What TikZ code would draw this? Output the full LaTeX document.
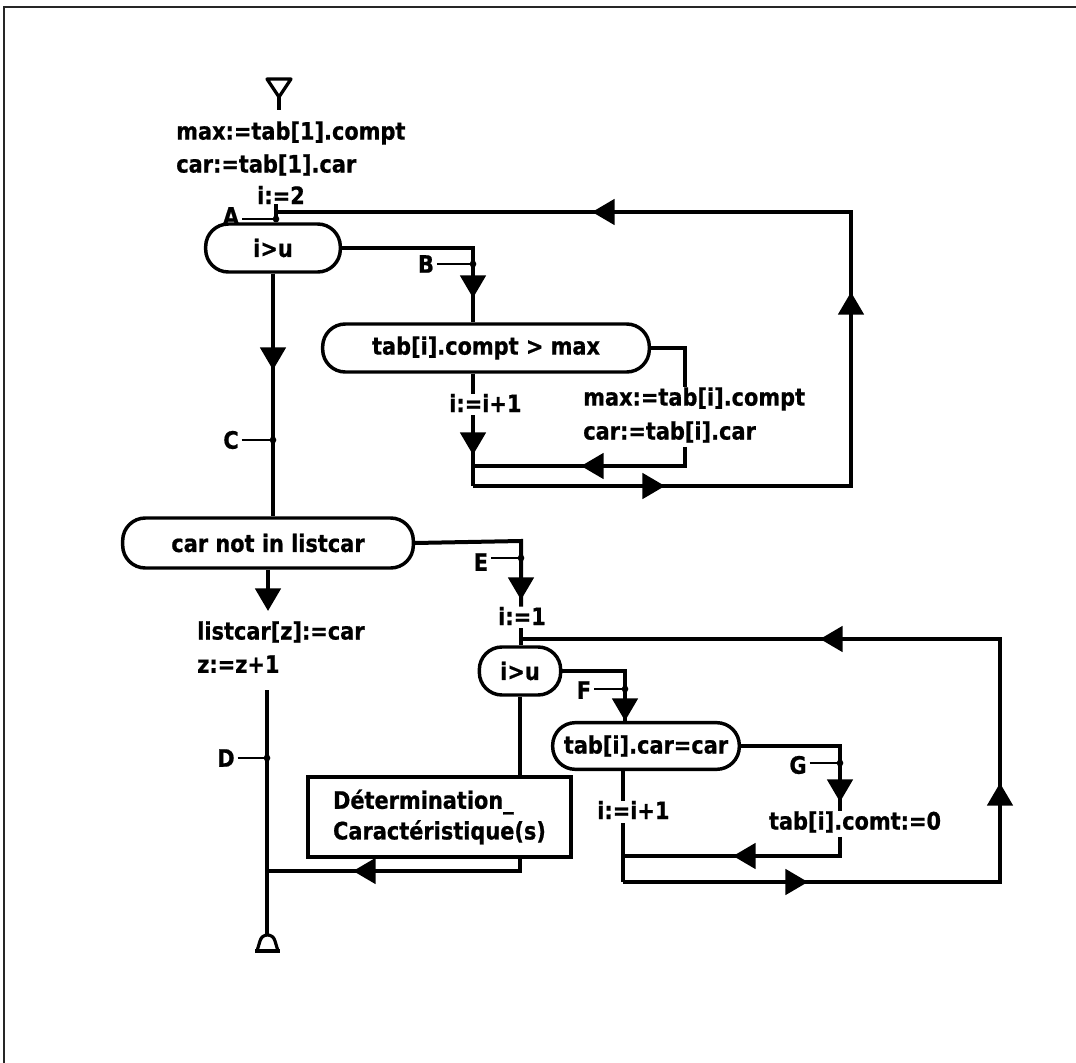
\documentclass[tikz,border=0pt]{standalone}
\usepackage{fontspec}
\setmainfont{DejaVu Sans}[FakeStretch=0.87,BoldFeatures={FakeBold=0.8}]
\usetikzlibrary{arrows.meta}
\begin{document}
\begin{tikzpicture}[x=0.75pt,y=-0.75pt,
  every node/.style={font=\fontsize{18}{23}\selectfont\bfseries,inner sep=0pt},
  ln/.style={line width=3pt},
  ah/.style={line width=3pt,-{Triangle[width=19pt,length=17pt]}},
  oval/.style={draw,line width=2.6pt,rounded corners=17pt,minimum height=36pt},
  boxed/.style={draw,line width=2.6pt,align=left},
  tick/.style={line width=1.5pt},
  jd/.style={circle,fill,inner sep=0pt,minimum size=5pt},
  frame/.style={line width=2.2pt,draw=black!85},
  term/.style={line width=2.4pt,line join=round}]
\useasboundingbox (0,0) rectangle (1076,1063);
\draw[frame] (4,1063) -- (4,7) -- (1076,7);

% ---------- start ----------
\coordinate (start) at (279,110);
\draw[term] (267,79) -- (291,79) -- (279,97) -- cycle;
\draw[ln] (279,97) -- (start);
\node[anchor=west] (t1) at (176,133) {max:=tab[1].compt};
\node[anchor=west] (t2) at (176,165) {car:=tab[1].car};
\node (t3) at (281,195) {i:=2};

% ---------- first loop ----------
\node[oval,minimum width=101pt] (o1) at (273,248) {i>u};
\coordinate (jA) at (276,219);
\coordinate (loopA) at (276,212);
\node (lA) at (231,216) {A};
\draw[ln] (t3.south -| jA) -- (jA |- o1.north);
\draw[tick] ([xshift=2pt]lA.east |- jA) -- (jA);
\node[jd] (dA) at (jA) {};

\coordinate (rT) at (851,212);
\coordinate (rB) at (851,486);
\coordinate (mB) at (473,486);
\coordinate (aT) at (592,212);
\coordinate (aR) at (851,292);
\coordinate (aO) at (665,486);
\draw[ln] (loopA) -- (rT) -- (rB) -- (mB);
\draw[ah] (rT) -- (aT);
\draw[ah] (rB) -- (aR);
\draw[ah] (mB) -- (aO);

% branch B
\node[oval,minimum width=245pt] (o2) at (486,348) {tab[i].compt > max};
\coordinate (b1) at (473,248);
\coordinate (jB) at (473,264);
\coordinate (aB) at (473,298);
\node (lB) at (426,264) {B};
\draw[ln] (o1.east) -- (b1) -- (b1 |- o2.north);
\draw[ah] (jB) -- (aB);
\draw[tick] ([xshift=2pt]lB.east |- jB) -- (jB);
\node[jd] (dB) at (jB) {};

% right of o2
\coordinate (c1) at (685,348);
\coordinate (c2) at (685,466);
\coordinate (c3) at (473,466);
\coordinate (aI) at (581,466);
\node[anchor=west] (t4) at (583,399) {max:=tab[i].compt};
\node[anchor=west] (t5) at (583,432) {car:=tab[i].car};
\draw[ln] (o2.east) -- (c1) -- (c1 |- t4.north);
\draw[ln] ([yshift=-3pt]c2 |- t5.south) -- (c2) -- (c3);
\draw[ah] (c2) -- (aI);

% below o2
\node[anchor=west] (t6) at (449,403) {i:=i+1};
\coordinate (aD) at (473,455);
\draw[ln] (b1 |- o2.south) -- (b1 |- t6.north);
\draw[ln] ([yshift=-2pt]b1 |- t6.south) -- (mB);
\draw[ah] ([yshift=-2pt]b1 |- t6.south) -- (aD);

% C
\node[oval,minimum width=218pt,minimum height=37.5pt] (o3) at (268,543) {car not in listcar};
\coordinate (jC) at (273,440);
\coordinate (aC) at (273,370);
\node (lC) at (231,440) {C};
\draw[ln] (o1.south) -- (o1.south |- o3.north);
\draw[ah] (o1.south) -- (aC);
\draw[tick] ([xshift=2pt]lC.east |- jC) -- (jC);
\node[jd] (dC) at (jC) {};

% ---------- left branch of o3 ----------
\coordinate (aL) at (268,611);
\draw[ah] (o3.south) -- (aL);
\node[anchor=west] (t11) at (197,632) {listcar[z]:=car};
\node[anchor=west] (t12) at (197,664) {z:=z+1};
\coordinate (endtop) at (267,690);
\coordinate (endp) at (267,935);
\draw[ln] (endtop) -- (endp);
\coordinate (jD) at (267,758);
\node (lD) at (226,758) {D};
\draw[tick] ([xshift=2pt]lD.east |- jD) -- (jD);
\node[jd] (dD) at (jD) {};
\draw[term] (257,951) -- (260,941) .. controls (262,933) and (273,933) .. (275,941) -- (278,951);
\draw[line width=3pt] (255,951) -- (280,951);

% ---------- E branch ----------
\coordinate (e1) at (521,541);
\coordinate (jE) at (521,558);
\coordinate (aE) at (521,600);
\node (lE) at (481,562) {E};
\node (t7) at (522,616) {i:=1};
\draw[ln] (o3.east) -- (e1) -- (e1 |- t7.north);
\draw[ah] (jE) -- (aE);
\draw[tick] ([xshift=2pt]lE.east |- jE) -- (jE);
\node[jd] (dE) at (jE) {};

\node[oval,minimum width=61pt] (o4) at (520,671) {i>u};
\draw[ln] ([yshift=-2pt]e1 |- t7.south) -- (e1 |- o4.north);

% second loop
\coordinate (lp2) at (521,639);
\coordinate (r2T) at (1000,639);
\coordinate (r2B) at (1000,882);
\coordinate (m2B) at (623,882);
\coordinate (a2T) at (820,639);
\coordinate (a2R) at (1000,783);
\coordinate (a2O) at (808,882);
\draw[ln] (lp2) -- (r2T) -- (r2B) -- (m2B);
\draw[ah] (r2T) -- (a2T);
\draw[ah] (r2B) -- (a2R);
\draw[ah] (m2B) -- (a2O);

% F
\node[oval,minimum width=140pt,minimum height=35pt] (o5) at (646,746) {tab[i].car=car};
\coordinate (f1) at (625,671);
\coordinate (jF) at (625,689);
\coordinate (aF) at (625,721);
\node (lF) at (584,690) {F};
\draw[ln] (o4.east) -- (f1) -- (f1 |- o5.north);
\draw[ah] (jF) -- (aF);
\draw[tick] ([xshift=2pt]lF.east |- jF) -- (jF);
\node[jd] (dF) at (jF) {};

% G
\coordinate (g1) at (840,746);
\coordinate (jG) at (840,763);
\coordinate (aG) at (840,802);
\coordinate (g2) at (840,856);
\coordinate (g3) at (623,856);
\coordinate (aG2) at (733,856);
\node (lG) at (798,765) {G};
\node (t8) at (855,822) {tab[i].comt:=0};
\draw[ln] (o5.east) -- (g1) -- (g1 |- t8.north);
\draw[ah] (jG) -- (aG);
\draw[tick] ([xshift=2pt]lG.east |- jG) -- (jG);
\node[jd] (dG) at (jG) {};
\draw[ln] ([yshift=-3pt]g1 |- t8.south) -- (g2) -- (g3);
\draw[ah] (g2) -- (aG2);

% below o5
\node[anchor=west] (t9) at (597,810) {i:=i+1};
\draw[ln] (m2B |- o5.south) -- (m2B |- t9.north);
\draw[ln] ([yshift=-3pt]m2B |- t9.south) -- (m2B);

% box
\node[boxed,minimum width=197pt,minimum height=60pt] (bx) at (439.5,817) {D\'etermination\_\\Caract\'eristique(s)};
\draw[ln] (o4.south) -- (o4.south |- bx.north);
\coordinate (h1) at (520,871);
\coordinate (h2) at (267,871);
\coordinate (aH) at (353,871);
\draw[ln] (bx.south -| h1) -- (h1) -- (h2);
\draw[ah] (h1) -- (aH);
\end{tikzpicture}
\end{document}
